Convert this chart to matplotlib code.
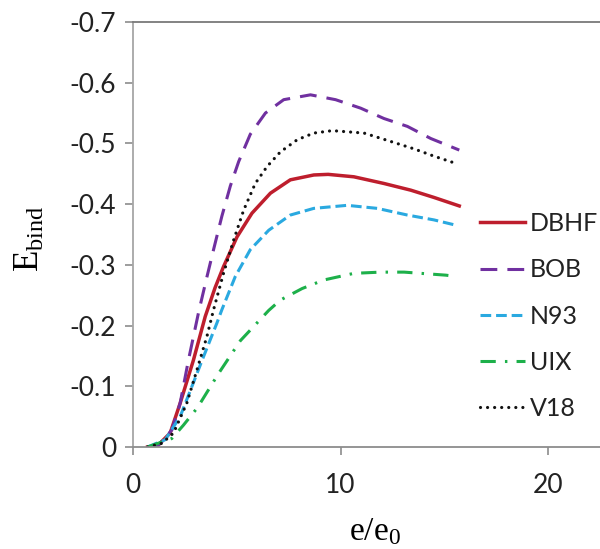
import matplotlib
matplotlib.use("Agg")
import matplotlib.pyplot as plt

# Curves (x = e/e0, y = binding energy)
dbhf_x = [0.7, 1.15, 1.79, 2.27, 2.91, 3.48, 3.95, 4.36, 5.01, 5.73, 6.62, 7.58, 8.71, 9.4,
          10.64, 12.09, 13.38, 14.5, 15.72]
dbhf_y = [0, -0.001, -0.023, -0.072, -0.143, -0.215, -0.262, -0.297, -0.346, -0.385, -0.418,
          -0.44, -0.448, -0.449, -0.445, -0.434, -0.423, -0.411, -0.397]

bob_x = [0.7, 1.2, 1.87, 2.27, 2.67, 3.16, 3.56, 3.88, 4.28, 4.69, 5.09, 5.65, 6.38, 7.26,
         8.55, 9.76, 10.97, 12.09, 13.22, 14.35, 15.72]
bob_y = [0, -0.002, -0.028, -0.072, -0.143, -0.222, -0.28, -0.325, -0.38, -0.43, -0.47,
         -0.515, -0.55, -0.572, -0.58, -0.572, -0.558, -0.541, -0.528, -0.508, -0.489]

n93_x = [0.7, 1.55, 2.27, 2.83, 3.4, 4.04, 4.28, 4.93, 5.65, 6.54, 7.58, 8.71, 10.32,
         11.77, 13.22, 14.5, 15.47]
n93_y = [0, -0.012, -0.05, -0.099, -0.149, -0.204, -0.226, -0.281, -0.325, -0.357, -0.382,
         -0.393, -0.398, -0.393, -0.382, -0.374, -0.366]

uix_x = [0.7, 1.87, 2.43, 3.11, 4.12, 5.17, 6.54, 7.1, 8.15, 9.19, 10.64, 11.93, 13.06,
         13.86, 15.07, 15.3]
uix_y = [0, -0.014, -0.036, -0.065, -0.121, -0.175, -0.225, -0.242, -0.261, -0.275, -0.286,
         -0.288, -0.288, -0.286, -0.283, -0.282]

v18_x = [0.7, 1.39, 1.95, 2.59, 3.08, 3.56, 3.88, 4.36, 4.85, 5.33, 5.89, 6.46, 7.1, 7.91,
         8.71, 9.6, 11.13, 12.25, 13.54, 14.5, 15.56]
v18_y = [0, -0.006, -0.023, -0.072, -0.127, -0.182, -0.226, -0.286, -0.341, -0.39, -0.434,
         -0.462, -0.486, -0.506, -0.517, -0.521, -0.517, -0.505, -0.491, -0.479, -0.467]

x_ticks = [0, 10, 20]
y_ticks = [0, -0.1, -0.2, -0.3, -0.4, -0.5, -0.6, -0.7]
y_tick_labels = ["0", "-0.1", "-0.2", "-0.3", "-0.4", "-0.5", "-0.6", "-0.7"]

plt.rcParams["font.family"] = ["Lato", "DejaVu Sans"]

fig = plt.figure(figsize=(6.0, 5.49), dpi=100)
ax = fig.add_axes([0.2217, 0.1858, 0.7783, 0.7742])

ax.plot(dbhf_x, dbhf_y, color="#be1e2d", lw=2.5, label="DBHF")
ax.plot(bob_x, bob_y, color="#7030a0", lw=2.2, dashes=(5.5, 3.3), label="BOB")
ax.plot(n93_x, n93_y, color="#2aa9e0", lw=2.2, dashes=(3.5, 1.6), label="N93")
ax.plot(uix_x, uix_y, color="#1db04a", lw=2.2, dashes=(5, 3, 0.8, 3), label="UIX")
ax.plot(v18_x, v18_y, color="#111111", lw=2.3, dashes=(0.01, 2.2),
        dash_capstyle="round", label="V18")

ax.set_xlim(0, 22.5)
ax.set_ylim(0, -0.7)
ax.set_xticks(x_ticks)
ax.set_yticks(y_ticks)
ax.set_yticklabels(y_tick_labels)

for s in ["left", "bottom", "top"]:
    ax.spines[s].set_linewidth(1.3)
ax.spines["left"].set_color("#a6a6a6")
ax.spines["bottom"].set_color("#8c8c8c")
ax.spines["top"].set_color("#7a7a7a")
ax.spines["right"].set_visible(False)

ax.tick_params(axis="both", colors="#8c8c8c", labelcolor="#222222",
               labelsize=19, length=6, width=1.2, direction="out")
ax.tick_params(axis="y", pad=6)
ax.tick_params(axis="x", pad=13)

ax.set_ylabel(r"$\mathregular{E_{bind}}$", family="Liberation Serif", fontsize=25)
ax.yaxis.set_label_coords(-0.184, 0.49)
ax.set_xlabel(r"$\mathregular{e/e_0}$", family="Liberation Serif", fontsize=24)
ax.xaxis.set_label_coords(0.518, -0.163)

leg = ax.legend(loc="center left", bbox_to_anchor=(0.743, 0.308), frameon=False,
                fontsize=18, handlelength=1.8, handletextpad=0.2,
                labelspacing=0.93, borderaxespad=0, borderpad=0)
for t in leg.get_texts():
    t.set_color("#222222")

fig.savefig("out.png", dpi=100)
